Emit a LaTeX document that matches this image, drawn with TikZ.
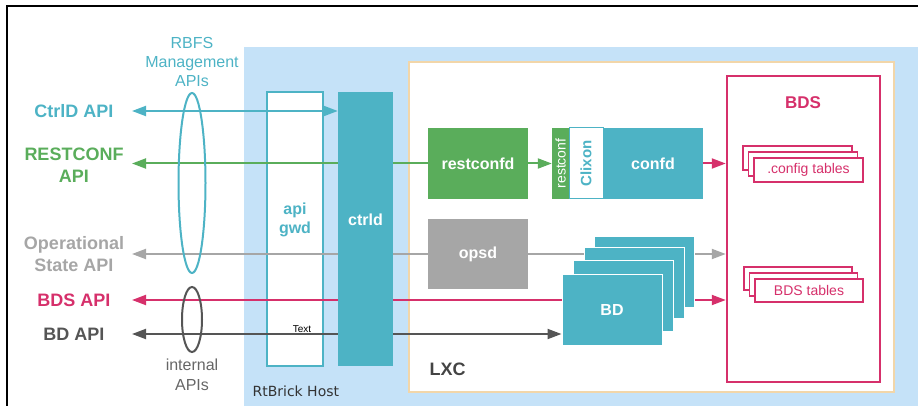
\documentclass[tikz,border=0pt]{standalone}
\usepackage{fontspec}
\setmainfont{Liberation Sans}
\newfontfamily\hostfont{DejaVu Sans}
\usetikzlibrary{arrows.meta}
\usetikzlibrary{shapes.geometric}
\definecolor{rbteal}{HTML}{4DB3C5}
\definecolor{rbgreen}{HTML}{5AAD5B}
\definecolor{rbgray}{HTML}{A6A6A6}
\definecolor{rbpink}{HTML}{D6306B}
\definecolor{rbdark}{HTML}{555555}
\definecolor{hostblue}{HTML}{C5E2F8}
\definecolor{lxctan}{HTML}{F2D6A9}
\pgfdeclarelayer{bg}
\pgfdeclarelayer{wires}
\pgfsetlayers{bg,wires,main}
\tikzset{
  blk/.style={inner sep=0pt, minimum width=100pt, minimum height=71pt, text=white, font=\fontsize{16}{19}\selectfont\bfseries},
  bdblk/.style={blk, fill=rbteal, draw=white, line width=1pt},
  wire/.style={line width=2pt},
  apilbl/.style={align=center, font=\fontsize{18}{22}\selectfont\bfseries},
  ring/.style={ellipse, draw, line width=2pt, inner sep=0pt},
  tbl/.style={draw=rbpink, fill=white, line width=1.5pt, minimum width=109pt, minimum height=24pt, inner sep=0pt, text=rbpink, font=\fontsize{14}{16}\selectfont}
}
\begin{document}
\begin{tikzpicture}[x=1pt,y=-1pt,>={Triangle[length=14pt,width=10pt]}]
\useasboundingbox (0,0) rectangle (918,406);
\draw[line width=1.5pt] (7,406) -- (7,6) -- (918,6);

\begin{pgfonlayer}{bg}
  \fill[hostblue] (244,47) rectangle (918,406);
  \filldraw[fill=white, draw=lxctan, line width=2pt] (409,62) rectangle (894,392);
  \node[draw=rbteal, fill=white, line width=2pt, inner sep=0pt, minimum width=56pt, minimum height=274pt] (apigwd) at (295,229) {};
\end{pgfonlayer}

% boxes
\node[blk, fill=rbteal, minimum width=55pt, minimum height=274pt] (ctrld) at (365.5,229) {};
\node[blk, fill=rbgreen] (restconfd) at (478,163.5) {restconfd};
\node[blk, fill=rbgreen, minimum width=17pt, font=\fontsize{14}{16}\selectfont] (rcstrip) at (560.5,163.5) {\rotatebox{90}{restconf}};
\node[blk, fill=white, draw=rbteal, line width=1pt, minimum width=34pt, text=rbteal, font=\fontsize{15}{18}\selectfont\bfseries] (clixon) at (586,163.5) {\rotatebox{90}{Clixon}};
\node[blk, fill=rbteal] (confd) at (653,163.5) {confd};
\node[blk, fill=rbgray, minimum height=70pt] (opsd) at (478,254) {opsd};
\node[bdblk] (bd4) at (644,271.5) {};
\node[bdblk] (bd3) at (634,282.5) {};
\node[bdblk] (bd2) at (623,295.5) {};
\node[bdblk] (bd1) at (612,309.5) {BD};

% BDS
\node[draw=rbpink, line width=2.5pt, inner sep=0pt, minimum width=153pt, minimum height=306pt] (bds) at (803.5,229) {};
\node[text=rbpink, font=\fontsize{17}{20}\selectfont\bfseries] (bdstitle) at (803,103) {BDS};
\node[tbl] (cfgtab3) at (797.5,158) {};
\node[tbl] (cfgtab2) at (803,164) {};
\node[tbl] (cfgtab1) at (808.5,170) {.config tables};
\node[tbl, minimum width=108pt, minimum height=23pt] (bdstab3) at (798,278.5) {};
\node[tbl, minimum width=108pt, minimum height=23pt] (bdstab2) at (803.5,284.5) {};
\node[tbl, minimum width=108pt, minimum height=23pt] (bdstab1) at (809,290.5) {BDS tables};

% text
\node[text=rbteal, align=center, font=\fontsize{16}{19}\selectfont\bfseries] (apigwdtxt) at (295,220) {api\\gwd};
\node[text=white, font=\fontsize{16}{19}\selectfont\bfseries] (ctrldtxt) at (365.5,220) {ctrld};
\node[text=rbdark!80!black, font=\fontsize{18}{22}\selectfont\bfseries, anchor=west] (lxc) at (426,369) {LXC};
\node[text=black!80, font=\hostfont\fontsize{14}{17}\selectfont, anchor=west] (host) at (249,391) {RtBrick Host};
\node[font=\fontsize{10}{12}\selectfont] (txtlbl) at (302,329) {Text};

% API labels
\node[apilbl, text=rbteal] (ctrldlbl) at (74,111) {CtrlD API};
\node[apilbl, text=rbgreen] (rclbl) at (74,165) {RESTCONF\\API};
\node[apilbl, text=rbgray] (oplbl) at (74,254) {Operational\\State API};
\node[apilbl, text=rbpink] (bdslbl) at (74,300) {BDS API};
\node[apilbl, text=rbdark] (bdlbl) at (74,334) {BD API};
\coordinate (ctrldapi) at (132,111);
\coordinate (rcapi) at (132,163.5);
\coordinate (opapi) at (132,254);
\coordinate (bdsapi) at (132,300);
\coordinate (bdapi) at (132,334);

% connectors
\begin{pgfonlayer}{wires}
  \draw[wire, rbteal, <->] (ctrldapi) -- (ctrld.west |- ctrldapi);
  \draw[wire, rbgreen, ->] (restconfd.west) -- (rcapi);
  \draw[wire, rbgreen, ->] (restconfd.east) -- (rcstrip.west);
  \draw[wire, rbpink, ->] (confd.east) -- (bds.west |- confd.east);
  \draw[wire, rbgray, ->] (opsd.west) -- (opapi);
  \draw[wire, rbgray, ->] (opsd.east) -- (bds.west |- opsd.east);
  \draw[wire, rbpink, ->] (bd1.west |- bdsapi) -- (bdsapi);
  \draw[wire, rbpink, ->] (bd4.east |- bdsapi) -- (bds.west |- bdsapi);
  \draw[wire, rbdark, <->] (bdapi) -- (bd1.west |- bdapi);
\end{pgfonlayer}

% API groups
\node[ring, draw=rbteal, minimum width=27pt, minimum height=180pt] (mgmtring) at (192,183) {};
\node[ring, draw=rbdark, minimum width=20pt, minimum height=65pt] (intring) at (192,319.5) {};
\node[text=rbteal, align=center, font=\fontsize{16}{19}\selectfont] (mgmtlbl) at (192,62) {RBFS\\Management\\APIs};
\node[text=rbdark!90, align=center, font=\fontsize{16}{20}\selectfont] (intlbl) at (192,375) {internal\\APIs};
\end{tikzpicture}
\end{document}
